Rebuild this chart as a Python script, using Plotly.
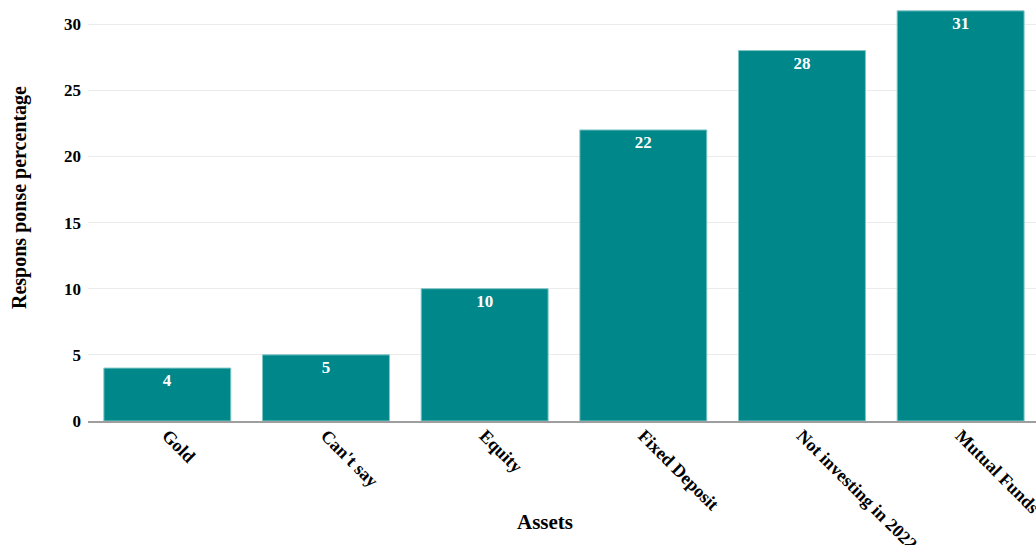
import plotly.graph_objects as go

# Survey: preferred investment asset for 2022
assets = ["Gold", "Can't say", "Equity", "Fixed Deposit", "Not investing in 2022", "Mutual Funds"]
response_pct = [4, 5, 10, 22, 28, 31]
y_ticks = [0, 5, 10, 15, 20, 25, 30]

SERIF = "Liberation Serif, Times New Roman, serif"
TEAL = "#00878A"

fig = go.Figure(
    go.Bar(
        x=assets,
        y=response_pct,
        text=[str(v) for v in response_pct],
        textposition="inside",
        insidetextanchor="end",
        textangle=0,
        textfont=dict(family=SERIF, size=17, color="white", weight="bold"),
        marker=dict(color=TEAL, line=dict(color="#7FC6C6", width=1)),
        cliponaxis=True,
    )
)

W, H = 1036, 545
L, R, T, B = 88, 0, 5, 124

fig.update_layout(
    width=W,
    height=H,
    margin=dict(l=L, r=R, t=T, b=B, autoexpand=False),
    plot_bgcolor="white",
    paper_bgcolor="white",
    bargap=0.2,
    showlegend=False,
    font=dict(family=SERIF, color="black"),
)

fig.update_xaxes(
    range=[-0.5, 5.475],
    tickangle=45,
    tickfont=dict(family=SERIF, size=18, color="black", weight="bold"),
    showgrid=False,
    showline=True,
    linecolor="#9E9E9E",
    linewidth=2,
    ticks="",
    ticklabelstandoff=-5,
    automargin=False,
)

fig.update_yaxes(
    range=[0, (421 - T) / 13.23],
    tickvals=y_ticks,
    tickfont=dict(family=SERIF, size=17, color="black", weight="bold"),
    showgrid=True,
    gridcolor="#EBEBEB",
    gridwidth=1,
    zeroline=False,
    ticks="",
    ticklabelstandoff=6,
    automargin=False,
)

plot_w = W - L - R
plot_h = H - T - B

# Axis titles placed as annotations
fig.add_annotation(
    text="Assets",
    xref="paper",
    yref="paper",
    x=(545 - L) / plot_w,
    y=-(522 - (H - B)) / plot_h,
    showarrow=False,
    font=dict(family=SERIF, size=21, color="black", weight="bold"),
    xanchor="center",
    yanchor="middle",
)
fig.add_annotation(
    text="Respons ponse percentage",
    xref="paper",
    yref="paper",
    x=(19 - L) / plot_w,
    y=((H - B) - 198) / plot_h,
    showarrow=False,
    textangle=-90,
    font=dict(family=SERIF, size=20, color="black", weight="bold"),
    xanchor="center",
    yanchor="middle",
)

fig.write_html("out.html")
